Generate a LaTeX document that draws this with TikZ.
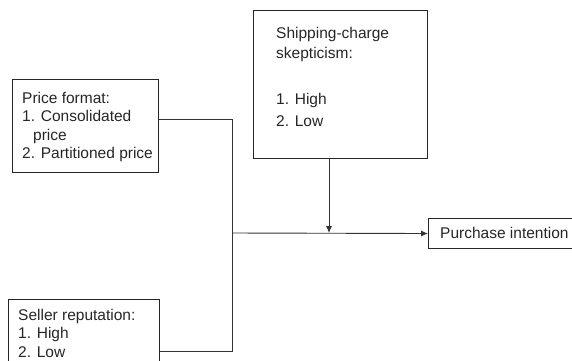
\documentclass[tikz,border=0pt]{standalone}
\usepackage{fontspec}
\setmainfont{Liberation Sans}
\usetikzlibrary{arrows.meta}
\begin{document}
\begin{tikzpicture}[x=1pt,y=-1pt,
  box/.style={draw=black!85, line width=1pt, rectangle, inner sep=0pt, anchor=north west},
  txt/.style={inner sep=0pt, align=left, font=\fontsize{15.5}{18.5}\selectfont, text=black!85},
  conn/.style={draw=black!80, line width=0.9pt},
  arr/.style={conn, -{Latex[length=7pt,width=6pt]}}]
\useasboundingbox (0,0) rectangle (572,360);
\clip (0,0) rectangle (572,360);
% boxes (text nodes anchored at the baseline of their last line)
\node[box, minimum width=146pt, minimum height=93pt] (price) at (12,79) {};
\node[txt, anchor=base west] (pricetxt) at (22,158.5) {Price format:\\1. Consolidated\\\hspace*{11pt}price\\2. Partitioned price};
\node[box, minimum width=174pt, minimum height=148pt] (ship) at (253,10) {};
\node[txt, anchor=base west] (shiptxt) at (276,126.5) {Shipping-charge\\[1.5pt]skepticism:\\[28pt]1. High\\[3.5pt]2. Low};
\node[box, minimum width=151pt, minimum height=80pt] (seller) at (8,299) {};
\node[txt, anchor=base west] (sellertxt) at (18,357) {Seller reputation:\\1. High\\2. Low};
\node[box, minimum width=150pt, minimum height=30pt] (purchase) at (428,218) {};
\node[txt, anchor=base west] (purchasetxt) at (440,238.5) {Purchase intention};
% junctions
\coordinate (j1) at (232,119);
\coordinate (j2) at (232,351);
\coordinate (j3) at (232,233);
\coordinate (j4) at (329,233);
% connectors
\draw[conn] (price.east |- j1) -- (j1) -- (j2) -- (seller.east |- j2);
\draw[arr] (j3) -- (purchase.west);
\draw[arr] (ship.south -| j4) -- (j4);
\end{tikzpicture}
\end{document}
